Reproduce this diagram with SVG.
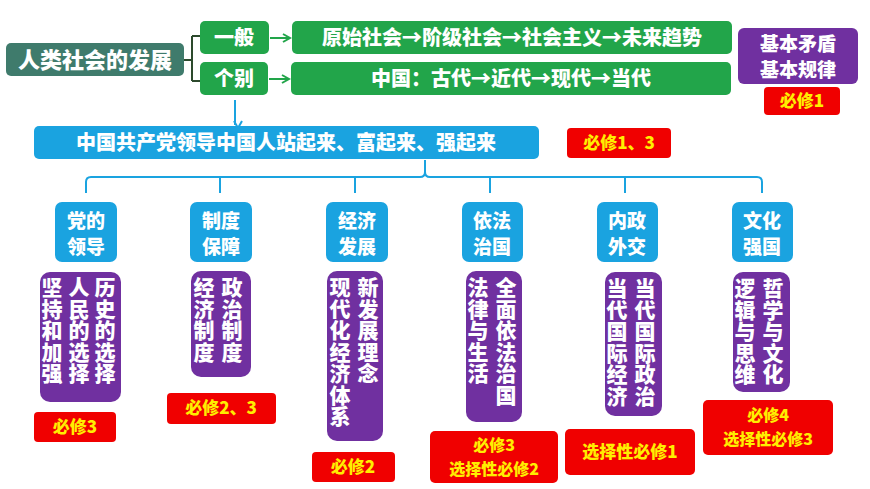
<svg xmlns="http://www.w3.org/2000/svg" width="870" height="489" viewBox="0 0 870 489">
<style>
text{font-family:"Noto Sans CJK SC","Liberation Sans",sans-serif;font-weight:900}
.g{fill:#22a54a}
.b{fill:#1aa3e0}
.p{fill:#7030a0}
.r{fill:#f00000}
.y{fill:#ffee00;font-size:17px;text-anchor:middle}
.y2{fill:#ffee00;font-size:16px;text-anchor:middle}
.t{text-anchor:middle;fill:#fff}
.bt{text-anchor:middle;fill:#fff;font-size:19px}
.v{writing-mode:vertical-rl;fill:#fff;font-size:21px;letter-spacing:0.5px}
.ln{fill:none;stroke:#1aa3e0;stroke-width:2}
.gl{fill:none;stroke:#22a54a;stroke-width:2}
</style>
<defs>
<marker id="ag" markerWidth="10" markerHeight="10" refX="8" refY="5" orient="auto" markerUnits="userSpaceOnUse"><path d="M1,1 L8,5 L1,9" fill="none" stroke="#22a54a" stroke-width="2"/></marker>
<marker id="ab" markerWidth="10" markerHeight="10" refX="5" refY="8" orient="auto" markerUnits="userSpaceOnUse"><path d="M1,1 L5,8 L9,1" fill="none" stroke="#1aa3e0" stroke-width="2" transform="rotate(-90 5 5)"/></marker>
</defs>
<g id="connectors">
<path d="M184,60 H192 M192,36 V81 M192,36 H200 M192,81 H200" fill="none" stroke="#2d4a2d" stroke-width="2"/>
<line x1="270" y1="38" x2="290" y2="38" class="gl" marker-end="url(#ag)"/>
<line x1="269" y1="79" x2="289" y2="79" class="gl" marker-end="url(#ag)"/>
<line x1="235" y1="100" x2="235" y2="125" class="ln" marker-end="url(#ab)"/>
<path d="M425,160 V172 Q425,177 420,177 H91 Q86,177 86,182 V193 M430,177 H757 Q762,177 762,182 V193 M425,172 Q425,177 430,177 M220,177 V193 M355,177 V193 M490,177 V193 M625,177 V193" class="ln"/>
</g>
<g id="n-root"><rect x="6" y="43" width="178" height="33" rx="5" fill="#3f7b6c"/><text x="95" y="68" class="t" font-size="22">人类社会的发展</text></g>
<g id="n-yiban"><rect x="200" y="21" width="69" height="33" rx="5" class="g"/><text x="234" y="45" class="t" font-size="20">一般</text></g>
<g id="n-gebie"><rect x="200" y="62" width="68" height="33" rx="5" class="g"/><text x="234" y="86" class="t" font-size="20">个别</text></g>
<g id="n-general"><rect x="292" y="21" width="440" height="33" rx="5" class="g"/><text x="512" y="45" class="t" font-size="20">原始社会→阶级社会→社会主义→未来趋势</text></g>
<g id="n-china"><rect x="291" y="62" width="440" height="33" rx="5" class="g"/><text x="511" y="86" class="t" font-size="20">中国：古代→近代→现代→当代</text></g>
<g id="n-basic"><rect x="738" y="28" width="120" height="56" rx="6" class="p"/><text x="798" y="51" class="t" font-size="19">基本矛盾</text><text x="798" y="77" class="t" font-size="19">基本规律</text></g>
<g id="n-bx1"><rect x="764" y="87" width="76" height="28" rx="4" class="r"/><text x="802" y="107" class="y">必修1</text></g>
<g id="n-main"><rect x="34" y="126" width="505" height="33" rx="5" class="b"/><text x="286" y="150" class="t" font-size="20">中国共产党领导中国人站起来、富起来、强起来</text></g>
<g id="n-bx13"><rect x="567" y="128" width="104" height="30" rx="4" class="r"/><text x="619" y="149" class="y">必修1、3</text></g>

<g id="c1"><rect x="55" y="202" width="62" height="60" rx="7" class="b"/><text x="86" y="228" class="bt">党的</text><text x="86" y="254" class="bt">领导</text>
<rect x="40" y="272" width="81" height="130" rx="10" class="p"/><text x="105" y="277" class="v">历史的选择</text><text x="79" y="277" class="v">人民的选择</text><text x="52" y="277" class="v">坚持和加强</text>
<rect x="34" y="412" width="82" height="30" rx="4" class="r"/><text x="75" y="433" class="y">必修3</text></g>
<g id="c2"><rect x="190" y="202" width="62" height="60" rx="7" class="b"/><text x="221" y="228" class="bt">制度</text><text x="221" y="254" class="bt">保障</text>
<rect x="191" y="271" width="60" height="106" rx="10" class="p"/><text x="232" y="277" class="v">政治制度</text><text x="204" y="277" class="v">经济制度</text>
<rect x="167" y="393" width="109" height="31" rx="4" class="r"/><text x="221" y="414" class="y">必修2、3</text></g>
<g id="c3"><rect x="326" y="202" width="62" height="60" rx="7" class="b"/><text x="357" y="228" class="bt">经济</text><text x="357" y="254" class="bt">发展</text>
<rect x="327" y="271" width="56" height="170" rx="10" class="p"/><text x="368" y="277" class="v">新发展理念</text><text x="340" y="277" class="v">现代化经济体系</text>
<rect x="312" y="452" width="83" height="30" rx="4" class="r"/><text x="353" y="473" class="y">必修2</text></g>
<g id="c4"><rect x="462" y="202" width="61" height="60" rx="7" class="b"/><text x="492" y="228" class="bt">依法</text><text x="492" y="254" class="bt">治国</text>
<rect x="466" y="271" width="56" height="151" rx="10" class="p"/><text x="506" y="277" class="v">全面依法治国</text><text x="478" y="277" class="v">法律与生活</text>
<rect x="430" y="431" width="128" height="52" rx="5" class="r"/><text x="494" y="451" class="y2">必修3</text><text x="494" y="475" class="y2">选择性必修2</text></g>
<g id="c5"><rect x="597" y="202" width="61" height="60" rx="7" class="b"/><text x="627" y="228" class="bt">内政</text><text x="627" y="254" class="bt">外交</text>
<rect x="605" y="272" width="57" height="144" rx="10" class="p"/><text x="645" y="278" class="v">当代国际政治</text><text x="617" y="278" class="v">当代国际经济</text>
<rect x="565" y="429" width="130" height="46" rx="5" class="r"/><text x="630" y="458" class="y">选择性必修1</text></g>
<g id="c6"><rect x="732" y="202" width="61" height="60" rx="7" class="b"/><text x="762" y="228" class="bt">文化</text><text x="762" y="254" class="bt">强国</text>
<rect x="733" y="272" width="57" height="120" rx="10" class="p"/><text x="773" y="278" class="v">哲学与文化</text><text x="745" y="278" class="v">逻辑与思维</text>
<rect x="703" y="400" width="130" height="55" rx="5" class="r"/><text x="768" y="421" class="y2">必修4</text><text x="768" y="445" class="y2">选择性必修3</text></g>
</svg>
